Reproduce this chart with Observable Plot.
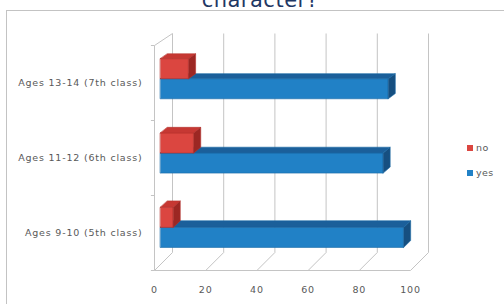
<!DOCTYPE html>
<html>
<head>
<meta charset="utf-8">
<script src="https://cdn.jsdelivr.net/npm/d3@7"></script>
<script src="https://cdn.jsdelivr.net/npm/@observablehq/plot@0.6"></script>
<style>
  html, body { margin: 0; padding: 0; background: #fff; overflow: hidden; width: 504px; height: 304px; }
  #wrap { position: relative; width: 504px; height: 304px; }
  #border { position: absolute; left: 6px; top: 10px; width: 700px; height: 500px; border: 1px solid #c3c3c3; box-sizing: border-box; }
  #title { position: absolute; left: 0; width: 520px; text-align: center; top: -12px; font: 21px "DejaVu Sans", sans-serif; color: #1f3864; line-height: 25px; white-space: nowrap; letter-spacing: 0.5px; }
  #chart { position: absolute; left: 0; top: 0; }
  #chart svg text { letter-spacing: 0.8px; }
  .leg { position: absolute; left: 467px; font: 9.5px "DejaVu Sans", sans-serif; color: #595959; line-height: 10px; white-space: nowrap; letter-spacing: 0.4px; }
  .leg span.sw { display: inline-block; width: 6px; height: 6px; margin-right: 3px; vertical-align: 0px; }
</style>
</head>
<body>
<div id="wrap">
  <div id="border"></div>
  <div id="chart"></div>
  <div id="title"></div>
</div>
<script>
// ---- data ----
const categories = ["Ages 9-10 (5th class)", "Ages 11-12 (6th class)", "Ages 13-14 (7th class)"];
const yesValues = [95, 87, 89];
const noValues = [5, 13, 11];
const seriesNames = ["no", "yes"];
const xTicks = [0, 20, 40, 60, 80, 100];
const titleText = "character?";

// ---- styling / geometry ----
const W = 504, H = 304, mL = 154, mR = 94, mT = 45, mB = 34;
const palette = {
  no:  {front: "#db4640", top: "#c63833", side: "#9c2723", edge: "#b5322d"},
  yes: {front: "#2181c6", top: "#1b5f9a", side: "#164f80", edge: "#1a6aa6"}
};
const pxPerX = (W - mL - mR) / 100;
const pxPerY = (H - mT - mB) / 3;
const DEPTH_X = 18, DEPTH_Y_TOP = 12, DEPTH_Y_BOTTOM = 18;
const yLo = -0.5, yHi = 2.5;
function P(x, y, z) {
  const t = (yHi - y) / (yHi - yLo);
  const oy = (DEPTH_Y_TOP + (DEPTH_Y_BOTTOM - DEPTH_Y_TOP) * t) * z;
  return {x: x + DEPTH_X * z / pxPerX, y: y + oy / pxPerY};
}

const polys = [];
function box(id, x0, x1, y0, y1, z0, z1, c) {
  const faces = [
    ["f", c.front, [P(x0,y0,z0), P(x1,y0,z0), P(x1,y1,z0), P(x0,y1,z0)]],
    ["t", c.top,   [P(x0,y1,z0), P(x1,y1,z0), P(x1,y1,z1), P(x0,y1,z1)]],
    ["s", c.side,  [P(x1,y0,z0), P(x1,y0,z1), P(x1,y1,z1), P(x1,y1,z0)]]
  ];
  for (const [k, col, pts] of faces)
    for (const p of pts) polys.push({id: id + k, x: p.x, y: p.y, fill: col, stroke: c.edge});
}
const BW = 0.27, Z0 = 0.33, Z1 = 0.72;
categories.forEach((cat, i) => {
  box("yes" + i, 0, yesValues[i], i - BW, i, Z0, Z1, palette.yes);
  box("no" + i, 0, noValues[i], i, i + BW, Z0, Z1, palette.no);
});

// walls / gridlines
const links = [];
function L(a, b) { links.push({x1: a.x, y1: a.y, x2: b.x, y2: b.y}); }
for (const t of xTicks) {
  L(P(t, yLo, 1), P(t, yHi, 1));   // back wall
  L(P(t, yLo, 0), P(t, yLo, 1));   // floor
}
L(P(0, yLo, 0), P(0, yHi, 0));      // left wall front edge
L(P(0, yHi, 0), P(0, yHi, 1));      // left wall top edge
L(P(0, yLo, 0), P(100, yLo, 0));    // floor front edge
for (let k = 0; k <= categories.length; k++) {
  const yy = yLo + k;
  links.push({x1: -1.4, y1: yy, x2: 0, y2: yy});
}

const chart = Plot.plot({
  width: W, height: H,
  marginLeft: mL, marginRight: mR, marginTop: mT, marginBottom: mB,
  style: {fontFamily: "DejaVu Sans, sans-serif", fontSize: "9.5px", color: "#595959", background: "transparent", overflow: "visible"},
  x: {domain: [0, 100], ticks: xTicks, tickSize: 0, tickPadding: 16, label: null},
  y: {domain: [yLo, yHi], ticks: categories.map((_, i) => i), tickFormat: i => categories[i], tickSize: 0, tickPadding: 12, label: null},
  color: {type: "identity"},
  marks: [
    Plot.link(links, {x1: "x1", y1: "y1", x2: "x2", y2: "y2", stroke: "#c4c4c4", strokeWidth: 1}),
    Plot.line(polys, {x: "x", y: "y", z: "id", fill: "fill", stroke: "stroke", strokeWidth: 0.6, curve: "linear-closed"})
  ]
});
document.getElementById("chart").appendChild(chart);
document.getElementById("title").textContent = titleText;

// legend
const wrap = document.getElementById("wrap");
seriesNames.forEach((s, i) => {
  const d = document.createElement("div");
  d.className = "leg";
  d.style.top = (143 + i * 25) + "px";
  d.innerHTML = `<span class="sw" style="background:${palette[s].front}"></span>${s}`;
  wrap.appendChild(d);
});
</script>
</body>
</html>
